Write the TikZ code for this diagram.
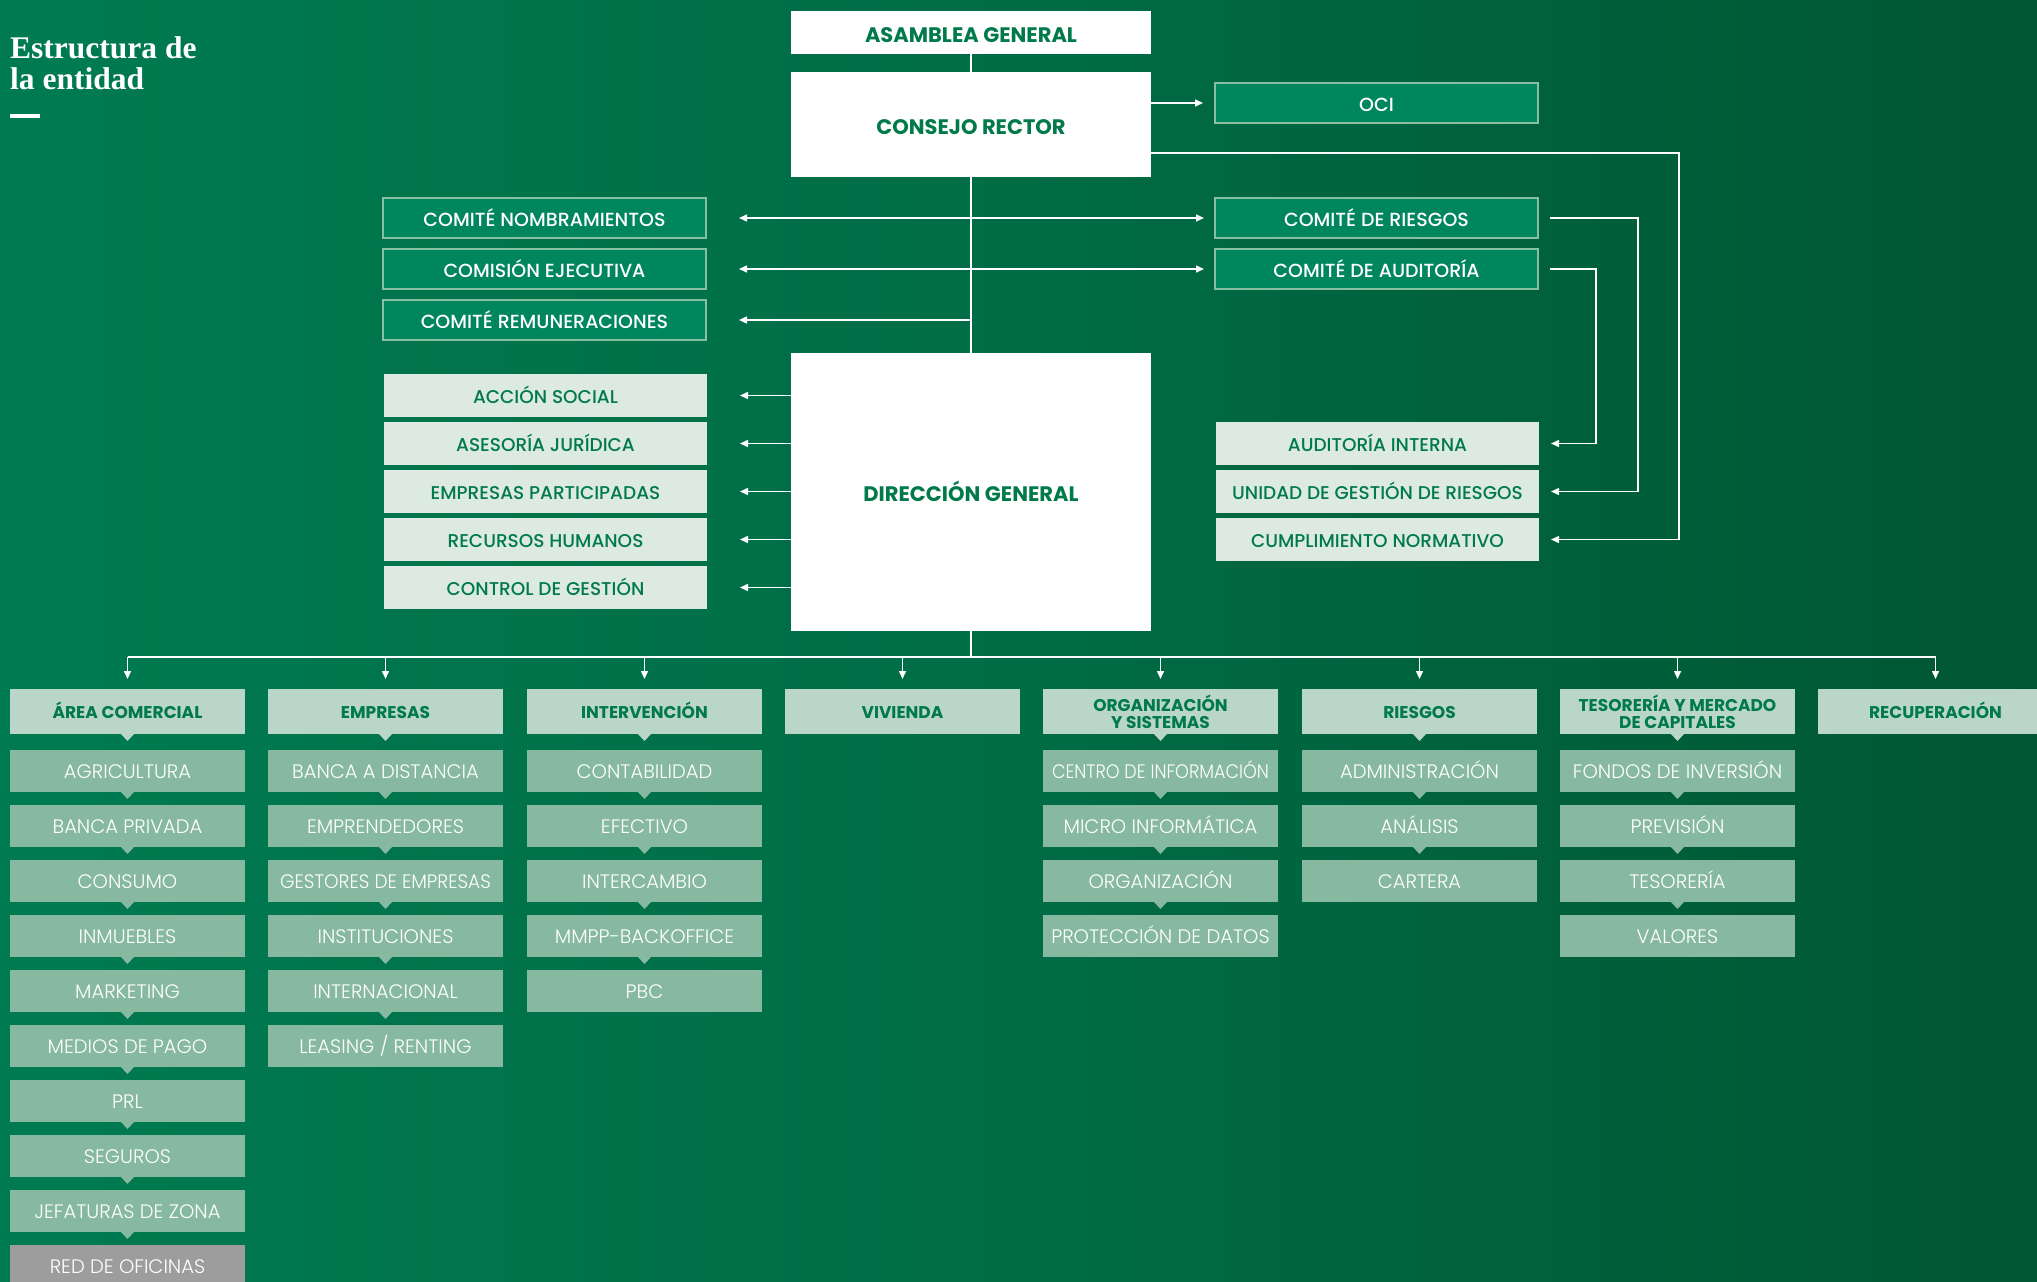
\documentclass[tikz,border=0pt]{standalone}
\usepackage{fontspec}
\setmainfont{Poppins}
\newfontfamily\medfont{Poppins Medium}
\newfontfamily\lightfont{Poppins Light}
\newfontfamily\titlefont{Liberation Serif}
\usetikzlibrary{arrows.meta,calc}

\definecolor{bgL}{HTML}{007B51}
\definecolor{bgM}{HTML}{006C46}
\definecolor{bgR}{HTML}{005632}
\definecolor{ink}{HTML}{00794B}
\definecolor{cmteFill}{HTML}{00865D}
\definecolor{cmteLine}{HTML}{86BFA2}
\definecolor{staffFill}{HTML}{DCEAE2}
\definecolor{headFill}{HTML}{B9D6C8}
\definecolor{subFill}{HTML}{86B9A0}
\definecolor{netFill}{HTML}{9D9D9D}

\pgfdeclarehorizontalshading{backdrop}{100bp}{color(0bp)=(bgL); color(25bp)=(bgL); color(50bp)=(bgM); color(75bp)=(bgR); color(100bp)=(bgR)}

\newcommand\narrow[2][0.9]{\scalebox{#1}[1]{#2}}

\tikzset{
  box/.style={anchor=north west, inner sep=0pt, outer sep=0pt, align=center},
  capline/.style={text height=#1, text depth=0pt},
  topbox/.style={box, capline=19.5pt, fill=white, text=ink, minimum width=360pt,
    font=\bfseries\fontsize{21}{23}\selectfont},
  cmte/.style={box, capline=16pt, fill=cmteFill, draw=cmteLine, line width=1.2pt, text=white,
    minimum width=323pt, minimum height=40pt, font=\medfont\fontsize{19}{21}\selectfont},
  staff/.style={box, capline=15.5pt, fill=staffFill, text=ink, minimum width=323pt, minimum height=43pt,
    font=\medfont\fontsize{18.5}{20}\selectfont},
  head/.style={box, fill=headFill, text=ink, minimum width=235pt, minimum height=45pt,
    font=\bfseries\fontsize{17}{17}\selectfont},
  headone/.style={head, capline=14.5pt},
  sub/.style={box, capline=15.5pt, fill=subFill, text=white, minimum width=235pt, minimum height=42pt,
    font=\lightfont\fontsize{19.5}{21}\selectfont},
  net/.style={sub, fill=netFill},
  link/.style={draw=white, line width=1.5pt},
  arr/.style={link, -{Triangle[length=8pt,width=7pt]}},
  title/.style={anchor=base west, inner sep=0pt, text=white,
    font=\titlefont\bfseries\fontsize{31.5}{32}\selectfont}
}

\begin{document}
\begin{tikzpicture}[x=1pt,y=-1pt]
\useasboundingbox (0,0) rectangle (2037,1282);
\clip (0,0) rectangle (2037,1282);
\shade[shading=backdrop] (0,0) rectangle (2037,1282);

% heading
\node[title] (title1) at (10,58) {Estructura de};
\node[title] (title2) at (10,89) {la entidad};
\fill[white] (10,114) rectangle (40,118);

% governing bodies
\node[topbox, minimum height=43pt]  (asamblea)  at (791,11)  {ASAMBLEA GENERAL};
\node[topbox, minimum height=105pt] (consejo)   at (791,72)  {CONSEJO RECTOR};
\node[topbox, minimum height=278pt] (direccion) at (791,353) {DIRECCIÓN GENERAL};

% board committees
\node[cmte] (oci)      at (1215,83)  {OCI};
\node[cmte] (nomb)     at (383,198)  {COMITÉ NOMBRAMIENTOS};
\node[cmte] (ejec)     at (383,249)  {COMISIÓN EJECUTIVA};
\node[cmte] (remun)    at (383,300)  {COMITÉ REMUNERACIONES};
\node[cmte] (cRiesgos) at (1215,198) {COMITÉ DE RIESGOS};
\node[cmte] (cAudit)   at (1215,249) {COMITÉ DE AUDITORÍA};

% staff units
\node[staff] (accion)       at (384,374) {ACCIÓN SOCIAL};
\node[staff] (asesoria)     at (384,422) {ASESORÍA JURÍDICA};
\node[staff] (participadas) at (384,470) {EMPRESAS PARTICIPADAS};
\node[staff] (rrhh)         at (384,518) {RECURSOS HUMANOS};
\node[staff] (control)      at (384,566) {CONTROL DE GESTIÓN};
\node[staff] (audInt)       at (1216,422) {AUDITORÍA INTERNA};
\node[staff] (unidad)       at (1216,470) {UNIDAD DE GESTIÓN DE RIESGOS};
\node[staff] (cumpl)        at (1216,518) {CUMPLIMIENTO NORMATIVO};

% areas
\node[headone] (comercial)    at (10,689)   {ÁREA COMERCIAL};
\node[headone] (empresas)     at (268,689)  {EMPRESAS};
\node[headone] (intervencion) at (527,689)  {INTERVENCIÓN};
\node[headone] (vivienda)     at (785,689)  {VIVIENDA};
\node[head]    (organizacion) at (1043,689) {ORGANIZACIÓN\\Y SISTEMAS};
\node[headone] (riesgosH)     at (1302,689) {RIESGOS};
\node[head]    (tesoreria)    at (1560,689) {TESORERÍA Y MERCADO\\DE CAPITALES};
\node[headone] (recuperacion) at (1818,689) {RECUPERACIÓN};

% departments
\node[sub] (a1)  at (10,750)  {AGRICULTURA};
\node[sub] (a2)  at (10,805)  {BANCA PRIVADA};
\node[sub] (a3)  at (10,860)  {CONSUMO};
\node[sub] (a4)  at (10,915)  {INMUEBLES};
\node[sub] (a5)  at (10,970)  {MARKETING};
\node[sub] (a6)  at (10,1025) {MEDIOS DE PAGO};
\node[sub] (a7)  at (10,1080) {PRL};
\node[sub] (a8)  at (10,1135) {SEGUROS};
\node[sub] (a9)  at (10,1190) {JEFATURAS DE ZONA};
\node[net] (a10) at (10,1245) {RED DE OFICINAS};

\node[sub] (b1) at (268,750)  {BANCA A DISTANCIA};
\node[sub] (b2) at (268,805)  {EMPRENDEDORES};
\node[sub] (b3) at (268,860)  {\narrow[0.95]{GESTORES DE EMPRESAS}};
\node[sub] (b4) at (268,915)  {INSTITUCIONES};
\node[sub] (b5) at (268,970)  {INTERNACIONAL};
\node[sub] (b6) at (268,1025) {LEASING / RENTING};

\node[sub] (i1) at (527,750) {CONTABILIDAD};
\node[sub] (i2) at (527,805) {EFECTIVO};
\node[sub] (i3) at (527,860) {INTERCAMBIO};
\node[sub] (i4) at (527,915) {MMPP-BACKOFFICE};
\node[sub] (i5) at (527,970) {PBC};

\node[sub] (o1) at (1043,750) {\narrow{CENTRO DE INFORMACIÓN}};
\node[sub] (o2) at (1043,805) {MICRO INFORMÁTICA};
\node[sub] (o3) at (1043,860) {ORGANIZACIÓN};
\node[sub] (o4) at (1043,915) {PROTECCIÓN DE DATOS};

\node[sub] (r1) at (1302,750) {ADMINISTRACIÓN};
\node[sub] (r2) at (1302,805) {ANÁLISIS};
\node[sub] (r3) at (1302,860) {CARTERA};

\node[sub] (t1) at (1560,750) {FONDOS DE INVERSIÓN};
\node[sub] (t2) at (1560,805) {PREVISIÓN};
\node[sub] (t3) at (1560,860) {TESORERÍA};
\node[sub] (t4) at (1560,915) {VALORES};

% small pointers under stacked boxes
\foreach \n in {comercial,empresas,intervencion,organizacion,riesgosH,tesoreria}
  \fill[headFill] ([xshift=-6.5pt]\n.south) -- ([xshift=6.5pt]\n.south) -- ([yshift=-7pt]\n.south) -- cycle;
\foreach \n in {a1,a2,a3,a4,a5,a6,a7,a8,a9,b1,b2,b3,b4,b5,i1,i2,i3,i4,o1,o2,o3,r1,r2,t1,t2,t3}
  \fill[subFill] ([xshift=-6.5pt]\n.south) -- ([xshift=6.5pt]\n.south) -- ([yshift=-7pt]\n.south) -- cycle;

% main spine
\draw[link] (asamblea) -- (consejo);
\draw[link] (consejo) -- (direccion);

% board to committees
\draw[arr, shorten >=12pt] (consejo.east |- oci.west) -- (oci.west);
\foreach \n in {nomb,ejec,remun}
  \draw[arr, shorten >=33pt] (consejo.south |- \n.east) -- (\n.east);
\foreach \n in {cRiesgos,cAudit}
  \draw[arr, shorten >=11pt] (consejo.south |- \n.west) -- (\n.west);

% reporting lines to control functions
\draw[arr, shorten >=12pt] ($(consejo.south east)+(0,-24)$) -- ++(528,0) |- (cumpl.east);
\draw[arr, shorten >=12pt] ([xshift=12pt]cRiesgos.east) -- ++(88,0) |- (unidad.east);
\draw[arr, shorten >=12pt] ([xshift=12pt]cAudit.east) -- ++(46,0) |- (audInt.east);

% general management to staff units
\foreach \n in {accion,asesoria,participadas,rrhh,control}
  \draw[arr, shorten >=33pt] (direccion.west |- \n.east) -- (\n.east);

% general management to areas
\coordinate (bus) at (0,657);
\draw[link] (direccion.south) -- (direccion.south |- bus);
\draw[link] (comercial.north |- bus) -- (recuperacion.north |- bus);
\foreach \n in {comercial,empresas,intervencion,vivienda,organizacion,riesgosH,tesoreria,recuperacion}
  \draw[arr, shorten >=10pt] (\n.north |- bus) -- (\n.north);
\end{tikzpicture}
\end{document}
